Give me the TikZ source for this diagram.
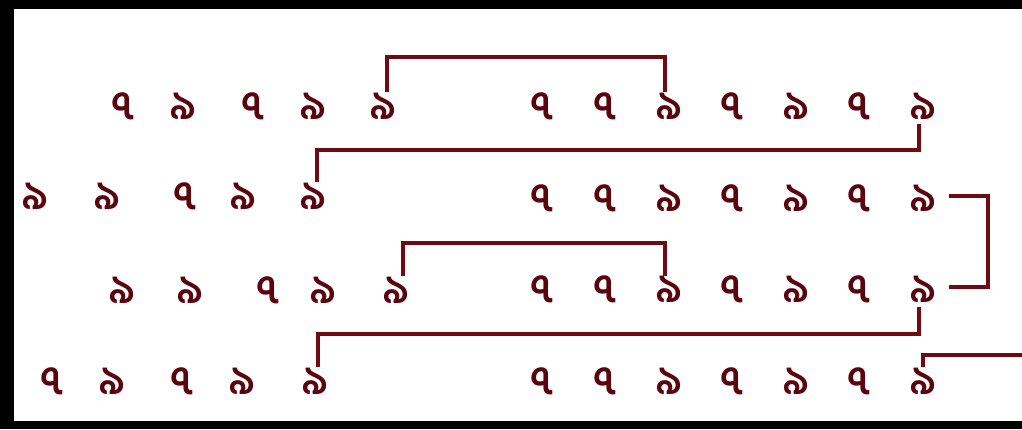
\documentclass[tikz,border=0pt]{standalone}
\usepackage{fontspec}
\newfontfamily\bengfont[Script=Bengali]{Hind Siliguri}
\usetikzlibrary{matrix}

\definecolor{inkred}{RGB}{112,10,18}
\definecolor{glyphred}{RGB}{90,4,14}
\newcommand{\sv}{৭}
\newcommand{\nn}{৯}

\tikzset{
    glyph/.style={inner sep=0pt, text width=30pt, align=center,
                  text height=20pt, text depth=3pt,
                  font=\fontsize{30}{30}\bengfont\bfseries, text=glyphred},
    link/.style={draw=inkred, line width=2.8pt},
}

\begin{document}
\begin{tikzpicture}[x=0.75pt, y=-0.75pt]
    \useasboundingbox (0,0) rectangle (1022,429);
    \fill[black] (0,0) rectangle (1022,9);
    \fill[black] (0,0) rectangle (14,429);
    \fill[black] (0,421) rectangle (1022,429);

    % left groups
    \foreach \x/\g [count=\i] in {123/\sv, 183/\nn, 253/\sv, 313/\nn, 383/\nn}
        \node[glyph] (l1-\i) at (\x,108) {\g};
    \foreach \x/\g [count=\i] in {35/\nn, 107/\nn, 185/\sv, 243/\nn, 313/\nn}
        \node[glyph] (l2-\i) at (\x,198) {\g};
    \foreach \x/\g [count=\i] in {122/\nn, 190/\nn, 268/\sv, 323/\nn, 396/\nn}
        \node[glyph] (l3-\i) at (\x,292) {\g};
    \foreach \x/\g [count=\i] in {52/\sv, 112/\nn, 182/\sv, 242/\nn, 315/\nn}
        \node[glyph] (l4-\i) at (\x,383) {\g};

    % right block
    \matrix (m) [matrix of nodes,
            ampersand replacement=\&,
            inner sep=0pt,
            nodes={glyph},
            row sep=45.75pt, column sep=17.625pt] at (732.5,245.5) {
      \sv \& \sv \& \nn \& \sv \& \nn \& \sv \& \nn \\
      \sv \& \sv \& \nn \& \sv \& \nn \& \sv \& \nn \\
      \sv \& \sv \& \nn \& \sv \& \nn \& \sv \& \nn \\
      \sv \& \sv \& \nn \& \sv \& \nn \& \sv \& \nn \\
    };

    \coordinate (lv1) at (0,57);
    \coordinate (lv2) at (0,150);
    \coordinate (lv3) at (0,243);
    \coordinate (lv4) at (0,334);
    \coordinate (rv) at (988,0);
    \coordinate (exit) at (1022,355);

    \coordinate (a1) at ([xshift=3pt]l1-5.north);
    \coordinate (b1) at ([xshift=-3pt]m-1-3.north);
    \draw[link] (a1) -- (a1 |- lv1) -| (b1);

    \coordinate (a2) at ([xshift=-3pt]m-1-7.south);
    \coordinate (b2) at ([xshift=3pt]l2-5.north);
    \draw[link] (a2) -- (a2 |- lv2) -| (b2);

    \coordinate (a3) at ([xshift=4pt, yshift=3pt]m-2-7.east);
    \coordinate (b3) at ([xshift=4pt, yshift=3pt]m-3-7.east);
    \draw[link] (a3) -| (rv |- b3) -- (b3);

    \coordinate (a4) at ([xshift=5pt]l3-5.north);
    \coordinate (b4) at ([xshift=-3pt]m-3-3.north);
    \draw[link] (a4) -- (a4 |- lv3) -| (b4);

    \coordinate (a5) at ([xshift=-3pt]m-3-7.south);
    \coordinate (b5) at ([xshift=2pt]l4-5.north);
    \draw[link] (a5) -- (a5 |- lv4) -| (b5);

    \draw[link] (m-4-7.north) |- (exit);
\end{tikzpicture}
\end{document}
